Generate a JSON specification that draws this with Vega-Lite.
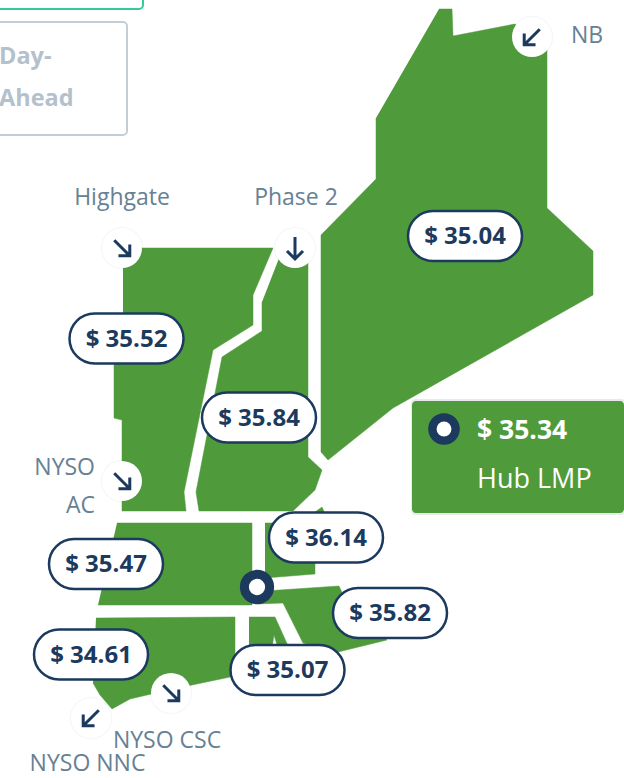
{"$schema":"https://vega.github.io/schema/vega-lite/v6.json","width":624,"height":778,"autosize":{"type":"none"},"padding":0,"background":"#ffffff","view":{"stroke":null},"datasets":{"regions":[
{"r":"ME","o":1,"x":439,"y":9},{"r":"ME","o":2,"x":452,"y":9},{"r":"ME","o":3,"x":453,"y":36},{"r":"ME","o":4,"x":515,"y":24},{"r":"ME","o":5,"x":547,"y":50},{"r":"ME","o":6,"x":547,"y":208},{"r":"ME","o":7,"x":593,"y":251},{"r":"ME","o":8,"x":593,"y":295},{"r":"ME","o":9,"x":393,"y":408},{"r":"ME","o":10,"x":328,"y":460},{"r":"ME","o":11,"x":321,"y":452},{"r":"ME","o":12,"x":321,"y":235},{"r":"ME","o":13,"x":376,"y":179},{"r":"ME","o":14,"x":376,"y":118},
{"r":"VT","o":1,"x":123,"y":248},{"r":"VT","o":2,"x":273,"y":248},{"r":"VT","o":3,"x":253,"y":295},{"r":"VT","o":4,"x":253,"y":325},{"r":"VT","o":5,"x":213,"y":350},{"r":"VT","o":6,"x":184,"y":492},{"r":"VT","o":7,"x":186,"y":511},{"r":"VT","o":8,"x":122,"y":511},{"r":"VT","o":9,"x":122,"y":420},{"r":"VT","o":10,"x":114,"y":418},{"r":"VT","o":11,"x":114,"y":350},{"r":"VT","o":12,"x":123,"y":330},
{"r":"NH","o":1,"x":283,"y":248},{"r":"NH","o":2,"x":308,"y":248},{"r":"NH","o":3,"x":308,"y":457},{"r":"NH","o":4,"x":322,"y":470},{"r":"NH","o":5,"x":315,"y":490},{"r":"NH","o":6,"x":293,"y":511},{"r":"NH","o":7,"x":199,"y":511},{"r":"NH","o":8,"x":196,"y":492},{"r":"NH","o":9,"x":222,"y":357},{"r":"NH","o":10,"x":262,"y":331},{"r":"NH","o":11,"x":262,"y":302},
{"r":"NE","o":1,"x":265,"y":523},{"r":"NE","o":2,"x":300,"y":523},{"r":"NE","o":3,"x":322,"y":507},{"r":"NE","o":4,"x":326,"y":516},{"r":"NE","o":5,"x":315,"y":555},{"r":"NE","o":6,"x":315,"y":574},{"r":"NE","o":7,"x":265,"y":578},
{"r":"WC","o":1,"x":117,"y":523},{"r":"WC","o":2,"x":252,"y":523},{"r":"WC","o":3,"x":252,"y":605},{"r":"WC","o":4,"x":98,"y":605},
{"r":"SE","o":1,"x":265,"y":591},{"r":"SE","o":2,"x":339,"y":586},{"r":"SE","o":3,"x":350,"y":610},{"r":"SE","o":4,"x":387,"y":640},{"r":"SE","o":5,"x":338,"y":652},{"r":"SE","o":6,"x":303,"y":643},{"r":"SE","o":7,"x":283,"y":603},{"r":"SE","o":8,"x":258,"y":604},
{"r":"RI","o":1,"x":249,"y":617},{"r":"RI","o":2,"x":275,"y":617},{"r":"RI","o":3,"x":289,"y":648},{"r":"RI","o":4,"x":278,"y":648},{"r":"RI","o":5,"x":274,"y":635},{"r":"RI","o":6,"x":272,"y":648},{"r":"RI","o":7,"x":249,"y":655},
{"r":"CT","o":1,"x":96,"y":618},{"r":"CT","o":2,"x":235,"y":617},{"r":"CT","o":3,"x":235,"y":676},{"r":"CT","o":4,"x":192,"y":685},{"r":"CT","o":5,"x":147,"y":695},{"r":"CT","o":6,"x":130,"y":699},{"r":"CT","o":7,"x":112,"y":709},{"r":"CT","o":8,"x":100,"y":695},{"r":"CT","o":9,"x":93,"y":683}
],
"prices":[{"x":465,"y":236,"t":"$ 35.04"},{"x":126.5,"y":338.5,"t":"$ 35.52"},{"x":259,"y":417.5,"t":"$ 35.84"},{"x":106,"y":564,"t":"$ 35.47"},{"x":91,"y":654.5,"t":"$ 34.61"},{"x":326,"y":537.5,"t":"$ 36.14"},{"x":390,"y":613,"t":"$ 35.82"},{"x":287.5,"y":670,"t":"$ 35.07"}],
"ties":[{"x":532,"y":37,"a":45},{"x":122,"y":248,"a":315},{"x":295,"y":248,"a":0},{"x":122,"y":481,"a":315},{"x":91,"y":718,"a":45},{"x":171,"y":693,"a":315}],
"centerLabels":[{"x":122,"y":198,"t":"Highgate"},{"x":296,"y":198,"t":"Phase 2"},{"x":167,"y":741,"t":"NYSO CSC"},{"x":87.5,"y":764,"t":"NYSO NNC"},{"x":587,"y":36,"t":"NB"}],
"rightLabels":[{"x":95,"y":468,"t":"NYSO"},{"x":95,"y":506,"t":"AC"}],
"tab":[{"x":-1,"y":57,"t":"Day-"},{"x":-1,"y":99,"t":"Ahead"}],
"hub":[{"x":518,"y":457}],"hubDots":[{"x":257,"y":587,"k":"map"},{"x":444,"y":429,"k":"legend"}],
"tabBox":[{"x":60,"y":78.5}],"topBox":[{"x":60,"y":-20}],
"hubValue":[{"x":477,"y":431,"t":"$ 35.34"}],"hubName":[{"x":477,"y":480,"t":"Hub LMP"}]
},
"encoding":{"x":{"field":"x","type":"quantitative","scale":{"domain":[0,624],"nice":false,"zero":false},"axis":null},"y":{"field":"y","type":"quantitative","scale":{"domain":[778,0],"nice":false,"zero":false},"axis":null}},
"layer":[
{"data":{"name":"regions"},"mark":{"type":"line","fill":"#4f9a3b","stroke":"#4f9a3b","strokeWidth":0.5,"interpolate":"linear"},"encoding":{"detail":{"field":"r"},"order":{"field":"o","type":"quantitative"}}},
{"data":{"name":"topBox"},"mark":{"type":"point","filled":false,"size":4,"stroke":"#35c99b","strokeWidth":2,"opacity":1,"shape":"M-83,-25 A4,4 0 0 1 -79,-29 H79 A4,4 0 0 1 83,-25 V25 A4,4 0 0 1 79,29 H-79 A4,4 0 0 1 -83,25 Z"}},
{"data":{"name":"tabBox"},"mark":{"type":"point","filled":false,"size":4,"stroke":"#c3cfd8","strokeWidth":2,"opacity":1,"shape":"M-67,-52.5 A4,4 0 0 1 -63,-56.5 H63 A4,4 0 0 1 67,-52.5 V52.5 A4,4 0 0 1 63,56.5 H-63 A4,4 0 0 1 -67,52.5 Z"}},
{"data":{"name":"tab"},"mark":{"type":"text","align":"left","baseline":"middle","font":"Open Sans","fontSize":23.5,"fontWeight":"bold","fill":"#b3c1cc"},"encoding":{"text":{"field":"t"}}},
{"data":{"name":"hub"},"mark":{"type":"point","filled":true,"size":4,"fill":"#8a9aa5","opacity":0.2,"shape":"M-107,-54 A4,4 0 0 1 -103,-58 H103 A4,4 0 0 1 107,-54 V54 A4,4 0 0 1 103,58 H-103 A4,4 0 0 1 -107,54 Z"}},
{"data":{"name":"hub"},"mark":{"type":"point","filled":true,"size":4,"fill":"#4f9a3b","opacity":1,"shape":"M-106,-52 A4,4 0 0 1 -102,-56 H102 A4,4 0 0 1 106,-52 V52 A4,4 0 0 1 102,56 H-102 A4,4 0 0 1 -106,52 Z"}},
{"data":{"name":"hubValue"},"mark":{"type":"text","align":"left","baseline":"middle","font":"Open Sans","fontSize":26.5,"fontWeight":"bold","fill":"#ffffff"},"encoding":{"text":{"field":"t"}}},
{"data":{"name":"hubName"},"mark":{"type":"text","align":"left","baseline":"middle","font":"Open Sans","fontSize":27,"fill":"#ffffff"},"encoding":{"text":{"field":"t"}}},
{"data":{"name":"hubDots"},"mark":{"type":"point","filled":false,"shape":"circle","stroke":"#1b3a5e","strokeWidth":9,"fill":"#ffffff","opacity":1},"encoding":{"size":{"field":"k","type":"nominal","scale":{"domain":["map","legend"],"range":[640,510]},"legend":null}}},
{"data":{"name":"hubDots"},"mark":{"type":"point","filled":true,"shape":"circle","fill":"#ffffff","opacity":1,"size":220}},
{"data":{"name":"ties"},"mark":{"type":"point","filled":true,"shape":"circle","fill":"#6b7f8c","opacity":0.07,"size":1800}},
{"data":{"name":"ties"},"mark":{"type":"point","filled":true,"shape":"circle","fill":"#ffffff","opacity":1,"size":1600}},
{"data":{"name":"ties"},"mark":{"type":"point","filled":false,"size":4,"stroke":"#1b3a5e","strokeWidth":3,"opacity":1,"shape":"M0,-11 L0,11 M-8,3 L0,11 L8,3"},"encoding":{"angle":{"field":"a","type":"quantitative","scale":null}}},
{"data":{"name":"prices"},"mark":{"type":"point","filled":false,"size":4,"fill":"#ffffff","stroke":"#1b3a5e","strokeWidth":2.5,"opacity":1,"shape":"M-32,-25 H32 A25,25 0 0 1 32,25 H-32 A25,25 0 0 1 -32,-25 Z"}},
{"data":{"name":"prices"},"mark":{"type":"text","align":"center","baseline":"middle","dy":1,"font":"Open Sans","fontSize":24,"fontWeight":"bold","fill":"#1b3a5e"},"encoding":{"text":{"field":"t"}}},
{"data":{"name":"centerLabels"},"mark":{"type":"text","align":"center","baseline":"middle","font":"Open Sans","fontSize":23,"fill":"#668194"},"encoding":{"text":{"field":"t"}}},
{"data":{"name":"rightLabels"},"mark":{"type":"text","align":"right","baseline":"middle","font":"Open Sans","fontSize":23,"fill":"#668194"},"encoding":{"text":{"field":"t"}}}
]}
